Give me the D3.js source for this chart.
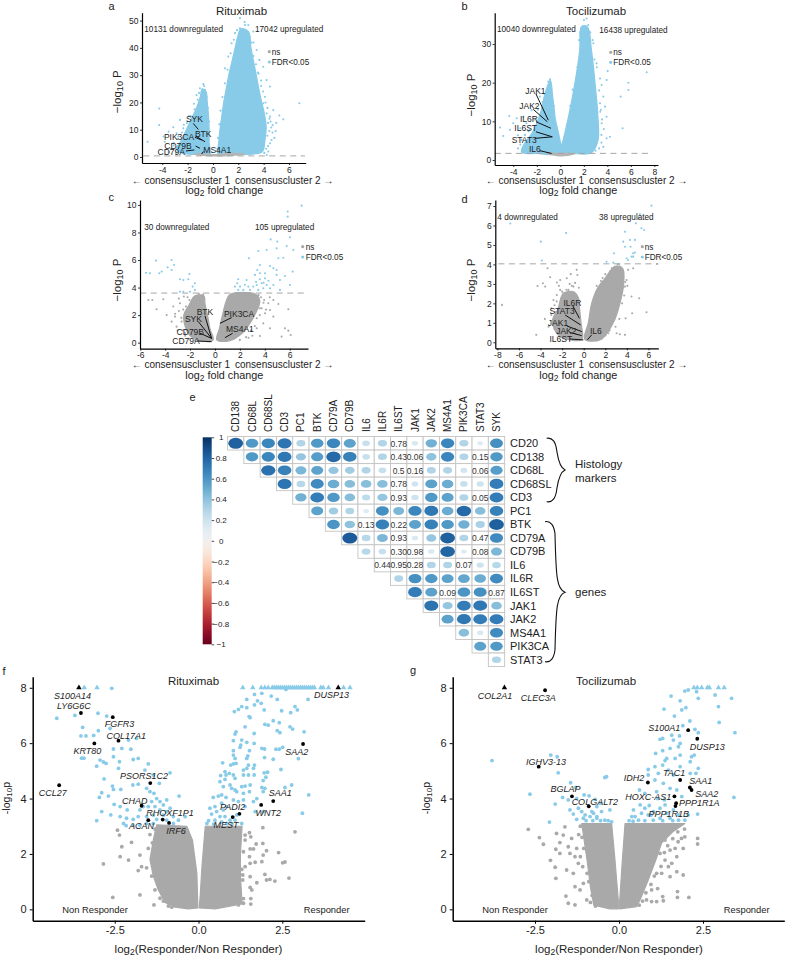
<!DOCTYPE html>
<html><head><meta charset="utf-8">
<script src="https://cdn.jsdelivr.net/npm/d3@7/dist/d3.min.js"></script>
<style>html,body{margin:0;padding:0;background:#fff}svg{display:block}text{font-family:"Liberation Sans",Arial,sans-serif;fill:#222}</style>
</head><body><svg id="c" width="786" height="957"></svg>
<script>
// ---------- volcano a ----------
const aCloudRight=[[.4,1],[.45,5],[.55,10],[.7,15],[.85,20],[1.05,25],[1.25,30],[1.5,35],[1.75,40],[1.95,44],[2.2,47],[2.8,46],[3,40],[3.25,34],[3.5,28],[3.75,22],[4.05,16],[4.2,11],[4.1,6],[3.9,2],[3,1],[1,.9]];
const aCloudLeft=[[-.2,1],[-.3,5],[-.3,10],[-.35,15],[-.45,20],[-.55,24],[-.85,25],[-1,22],[-1.3,18],[-1.7,14],[-2.1,10],[-2.5,6],[-2.9,3],[-2.5,1.5],[-1,.9]];
const aCloudNs=[[-1.5,1],[-.5,.5],[.5,.4],[1.5,.6],[2.5,1],[1.5,1.3],[.3,.9],[-.2,.9],[-.8,1.2]];
const aBlue=[[6.82,19.7],[-4.24,17.8],[-4.24,11.7],[-5.16,5.6],[5.24,15.2],[5.55,13.8],[4.71,11.7],[4.5,14.8],[4.24,16],[3.97,19.7],[4.63,6.2],[4.37,2],[4.24,.73],[-3.13,10.9],[-3.5,9.3],[-3.9,7.5],[-3.8,5.6],[-2.87,8.7],[-2.6,13.6],[-2.34,10.5],[-.76,26.7],[-1.03,25.2],[-1.29,22.7],[-.63,24.6],[2.53,48.4],[2.79,48.4],[2.13,50.9],[2.13,47.2],[1.74,45.4],[3.18,46],[3.45,39.2],[3.66,35.6],[3.97,33.1],[4.24,28.2],[4.5,25.8],[4.1,22.1],[4.76,17.2],[.95,32.5],[1.21,36.8],[1.47,41.7],[4.35,12.5],[4.45,9.5],[4.6,10.8],[4.3,7.8],[3.6,30.5],[3.8,26],[3.2,42],[2.5,49.5],[-1.5,19.5],[-1.9,15],[-2.3,11.8],[-2.8,6.5],[-3.1,4.2]];
const aBlueEdge=[[4.3,18],[4.15,20],[3.95,24],[3.8,28],[3.55,31],[3.4,34],[3.2,37],[3.05,42],[2.9,44],[4.45,14],[4.55,13],[4.7,9],[4.5,5],[4.35,4],[4.2,3],[4.05,1.5],[5,12.5],[4.95,9.5],[4.85,7],[.35,3],[.4,7],[.5,12],[.6,17],[.75,22],[.95,27],[1.15,32],[1.4,38],[1.65,43],[1.9,46.5],[-.35,8],[-.3,13],[-.4,18],[-.5,22],[-.7,26],[-1.1,23.5],[-1.2,21],[-1.45,17.5],[-1.75,15],[-2.05,12.5],[-2.45,9],[-2.75,7.5],[-3.1,5.2],[-3.3,3],[-3.5,1.8],[-2.9,1.6]];
const aLabels=[{t:"SYK",x:-2.13,y:14},{t:"BTK",x:-1.42,y:8.6},{t:"PIK3CA",x:-3.87,y:7.4},{t:"CD79B",x:-3.84,y:4.2},{t:"CD79A",x:-4.37,y:1.8},{t:"MS4A1",x:-.76,y:2.57}];
const aLinks=[[-1.55,12.3,-1.16,10.1],[-1.37,7.7,-.63,5.6],[-1.42,7.2,-.89,6.2],[-1.37,4,-1.03,3.2],[-2.13,2.2,-1.47,2.6],[-.89,1.1,-.76,2]];
// ---------- volcano b ----------
const bCloudRight=[[-.05,1.9],[.25,5.2],[.7,11.2],[1.25,20],[1.65,28.4],[1.8,34.5],[2.3,34.5],[2.65,28.4],[2.95,20],[3.2,11.2],[3.2,5],[2.65,1.9],[1,1.7]];
const bCloudLeft=[[-.1,1.9],[-.45,11.2],[-.65,16.5],[-.85,20.7],[-1.3,17.2],[-1.7,12],[-2.4,7],[-3,4.5],[-3.3,2],[-2,1.7]];
const bCloudNs=[[-1.2,1.75],[-.4,1.2],[.4,1.1],[1.3,1.7],[.2,1.7],[-.2,1.7]];
const bBlue=[[-5.13,8.4],[-4.85,6.2],[-4.34,11.4],[-4,9.5],[-3.7,10.8],[-3.4,8.2],[-4.28,7.8],[-3.15,11.2],[-2.87,9.5],[-2.44,12.9],[-1.73,16.4],[-.88,20.9],[-1.02,20.3],[-1.45,17.2],[7.35,22.7],[5.79,20],[5.79,18.1],[5.13,16.4],[4.03,23],[3.94,20.7],[5.3,8.2],[3.52,19.4],[3.66,16.4],[3.38,14.7],[3.8,13.8],[3.94,11.2],[3.52,9.5],[4.23,6],[3.94,5.6],[3.66,3.4],[2.24,36.6],[2.01,36.2],[1.82,34.1],[2.38,34.9],[2.81,30.2],[3.09,25],[3.38,21.1],[-3.6,6.4],[-3.3,5.2],[-2.7,7.4],[3.5,6.5],[3.7,8],[3.4,12.5]];
const bBlueEdge=[[3.1,24],[3.3,18],[3.45,13],[3.55,10.5],[3.5,4.5],[3.3,3],[3,2.4],[2.9,26],[2.75,31],[2.55,33],[1.05,18.2],[.85,14],[.55,9],[.35,6],[1.45,24],[1.6,31],[1.7,33],[-.55,14],[-.4,9],[-.25,5],[-1.05,19],[-1.5,15],[-1.9,13],[-2.2,10.5],[-2.6,8],[-3,6.5],[-3.4,4],[-3.6,3],[-2.9,3.5],[-.95,18.8]];
const bLabels=[{t:"JAK1",x:-2.98,y:17.9},{t:"JAK2",x:-3.49,y:14},{t:"IL6R",x:-3.43,y:10.6},{t:"IL6ST",x:-3.91,y:8.2},{t:"STAT3",x:-4.14,y:5.2},{t:"IL6",x:-2.67,y:2.8}];
const bLinks=[[-2.07,17.1,-1.02,10.3],[-2.3,13.1,-1.11,9.9],[-2.07,9.9,-.79,8.2],[-2.07,7.3,-.68,6],[-2.16,5.6,-.68,6],[-1.73,2.4,-.74,1.7]];
// ---------- volcano c ----------
const cCloudLeft=[[-.15,.2],[-.4,1],[-.6,2],[-.8,2.8],[-.9,3.4],[-1.6,3.4],[-2.1,2.7],[-2.5,2],[-2.4,1.2],[-2,.5],[-1,.1]];
const cCloudRight=[[.15,.2],[.35,1],[.6,2],[.9,3],[1.2,3.5],[3.3,3.5],[3.6,3],[3.3,2.2],[2.8,1.4],[2.2,.7],[1.2,.15]];
const cBlue=[[6.96,9.95],[5.84,9.52],[5.84,9.15],[6.02,7.65],[4.47,7.5],[5,7.34],[5.76,7.02],[6.29,6.73],[4.95,6.85],[3.48,6.66],[4.15,6.73],[2.73,6.13],[5.09,6.13],[5.49,6.17],[3.61,5.64],[4.42,5.57],[4.69,5.4],[3.4,5.28],[4.95,5.28],[3.61,5.04],[4.02,5.04],[4.95,4.92],[5.62,4.84],[6.24,5.16],[1.87,4.6],[2.54,4.55],[3.21,4.92],[4.02,4.67],[1.79,4.31],[2.01,4.07],[1.61,4.07],[2.68,4.07],[3.08,4.07],[3.35,4.19],[3.75,4.31],[4.15,4.19],[4.42,3.95],[4.69,4.19],[5.22,4.55],[6.02,4.19],[2.28,3.83],[2.81,3.83],[3.48,3.83],[3.88,3.95],[5.22,3.83],[1.87,3.83],[-4.74,5.96],[-3.48,6],[-3.29,5.64],[-3.8,5.47],[-4.28,5.16],[-4.47,5.04],[-5.54,5.08],[-5.22,5.04],[-2.06,4.99],[-3.48,5.28],[-2.81,4.6],[-2.14,4.6],[-2.54,4.55],[-1.61,4.31],[-1.79,4.07],[-2.81,3.7],[-2.54,3.7],[-2.01,3.7],[-1.61,3.83],[3.6,4.6],[3.9,4.35],[3.3,4.4],[2.4,4.2],[4.3,4.5]];
const cGray=[[-5.35,3.1],[-5.03,3.1],[-4.15,3.15],[-4.69,2.42],[-3.88,2],[-3.21,1.89],[-2.81,2.86],[-3.35,2.62],[-3.48,1.53],[-2.68,1.53],[-2.33,2.62],[-3.08,1.16],[4.28,2.86],[4.69,3.1],[5.09,2.81],[5.89,2.42],[4.42,1.04],[4.42,2.37],[5.62,1.04],[5.89,.87],[6.08,.56],[5.35,.44],[3.61,.48],[3.35,1.04],[3.88,1.4],[3.35,1.77],[4.02,2.13],[4.69,1.89],[3.61,2.49],[-2.9,3.2],[-2.5,3.35],[-3,.9],[-2.4,.7],[4.4,3.3]];
const cGrayEdge=[[-.95,3.5],[-1.3,3.55],[-1.75,3.2],[-2.05,3.1],[-2.2,3.3],[-2.55,2.4],[-2.7,1.8],[-2.9,2.3],[-2.6,.9],[-2.1,.3],[-1.6,.15],[-2.4,.5],[-3.2,2.1],[3.5,3.45],[3.7,3.3],[3.9,2.9],[3.75,2.5],[3.6,2],[3.2,1.2],[2.9,.9],[3,.5],[2.5,.4],[2,.2],[3.95,3.1],[3.4,2.7],[4.1,2.4],[2.7,.35]];
const cLabels=[{t:"BTK",x:-1.47,y:2.2},{t:"SYK",x:-2.41,y:1.69},{t:"CD79B",x:-3.08,y:.8},{t:"CD79A",x:-3.43,y:.15},{t:"PIK3CA",x:.72,y:2.08},{t:"MS4A1",x:.88,y:.97}];
const cLinks=[[-.8,1.94,-.27,.31],[-1.34,1.53,-.27,.31],[-1.2,.68,-.27,.31],[-1.42,.12,-.27,.07],[1.34,1.82,.4,1.4],[1.42,.68,.8,.36]];
// ---------- volcano d ----------
const dCloudLeft=[[-.15,.15],[-.25,1],[-.4,1.8],[-.5,2.3],[-1,2.6],[-1.9,2.5],[-2.4,1.7],[-2.9,1.1],[-2.4,.4],[-1,.1]];
const dCloudRight=[[.1,.15],[.43,1],[.74,2],[1.3,2.8],[2,3.3],[2.9,3.9],[3.6,3.8],[3.7,3],[3.35,2],[2.74,1],[1.6,.15]];
const dBlue=[[6.28,7.02],[5.2,6.59],[3.82,5.68],[4.83,6.11],[5.35,5.86],[5.6,5.77],[-6.8,6.1],[-1.63,5.62],[-3.97,5.17],[4.28,5.26],[4.74,5.26],[3.66,5.17],[3.82,4.91],[4.34,4.91],[4.58,4.57],[4.43,4.4],[4.74,4.61],[4.12,4.23],[2.8,4.57],[3.97,4.32],[-3.88,4.2],[2.12,4.14],[2.74,4.09],[4.58,4.4],[3.29,4.02],[5.1,6.4]];
const dGray=[[-7.57,1.92],[-4.4,.38],[-4.28,2.89],[-3.78,3.03],[-3.35,3.8],[-3.57,2.86],[-3.11,3.34],[-2.49,3.07],[-2.18,3.2],[-1.57,3.29],[-.65,3.72],[-.58,3.46],[-1.88,2.52],[-1.42,2.69],[-2.18,2.69],[-.95,2.86],[-2.49,2.43],[-2.8,2.17],[5.14,2.26],[5.82,1.54],[4.49,1.49],[3.88,1.23],[3.35,.41],[3.82,.38],[3.05,.46],[2.28,.46],[6.8,4.02],[4.12,3.72],[4.58,3.8],[3.66,3.63],[3.35,3.37],[2.89,3.2],[2.28,2.86],[3.05,3.54],[3.35,3.89],[2.43,3.63],[3.97,3.2],[3.51,2.52],[3.82,2.86],[3.05,2.69],[4.43,2.35],[-1.2,3.5],[-2.7,1.9],[-3.6,1.2]];
const dGrayEdge=[[-1.1,2.9],[-1.6,2.7],[-2,2.6],[-2.5,2.1],[-2.65,1.55],[-3,1.4],[-3.25,.8],[-2.7,.7],[-2.2,.3],[-1.6,.15],[-3,1.75],[-.8,3.05],[-1.3,3],[-2.3,2.9],[-.45,2.8],[3.85,3.1],[3.75,2.4],[3.55,2],[3.1,1.6],[3.3,1.2],[2.95,.8],[2.4,.6],[2,.35],[1.7,.2],[4.05,2.9],[3.65,3.4],[2,3.5],[1.6,3.15],[1.2,2.9],[3.15,4],[2.6,3.8],[1.75,3.3]];
const dLabels=[{t:"IL6R",x:-1.88,y:2.04},{t:"STAT3",x:-3.17,y:1.58},{t:"JAK1",x:-3.32,y:1.01},{t:"JAK2",x:-2.55,y:.57},{t:"IL6ST",x:-3.17,y:.17},{t:"IL6",x:.58,y:.58}];
const dLinks=[[-1.02,1.88,-.4,1.23],[-1.72,1.4,-.28,.89],[-1.57,.84,-.18,.55],[-1.26,.5,-.18,.34],[-1.32,.17,-.03,.12],[.74,.38,.34,.12]];
// ---------- volcano f ----------
const fCloudLeft=[[-.02,.05],[-.05,1.3],[-.18,2.5],[-.35,3],[-1.25,3.05],[-1.35,2.5],[-1.45,1.8],[-1.35,1.2],[-1.2,.7],[-1,.25],[-.7,.08],[-.3,.02]];
const fCloudRight=[[.02,.05],[.05,.5],[.1,1.5],[.2,3],[1.3,3],[1.25,2],[1.25,1.2],[1.3,.2],[.5,.02]];
const fBlue=[[-4.23,6.9],[-3.69,7],[-3.46,6.57],[-3.51,6.26],[-3.36,6.26],[-3.13,6.28],[-2.99,6.45],[-3,7.08],[-2.74,6.98],[-2.64,6.53],[-2.59,7.98],[-3.49,5.46],[-3.42,5.46],[-3.04,5.17],[-2.94,5.39],[-2.84,5.32],[-2.76,5.27],[-2.54,5.51],[-2.36,5.33],[-2.39,5.09],[-2.29,5.81],[-2.02,5.78],[-2.54,5.79],[-1.95,5.41],[-1.8,5.45],[-1.85,6.17],[-2.09,6.11],[-2.82,4.71],[-2.57,4.45],[-2.54,4.33],[-2.32,4.33],[-2.96,4.04],[-2.89,4.21],[-2.69,4.09],[-2.52,3.79],[-2.34,3.71],[-2.89,3.53],[-2.62,3.41],[-3.04,3.2],[-2.34,3.35],[-2.13,3.59],[-2.15,3.29],[-1.96,4.49],[-1.8,4.52],[-1.6,5.03],[-1.5,5.25],[-1.35,4.85],[-1.17,4.55],[-.85,4.93],[-1.55,4.37],[-1.45,4.25],[-1.33,4.19],[-1.25,4],[-1.15,3.89],[-1.05,3.77],[-.58,4.09],[-.95,3.95],[-.85,3.65],[-1.65,3.71],[-1.75,3.59],[-1.8,3.35],[-1.95,3.25],[-2.24,3.1],[-2.16,3.02],[-1.55,3.35],[-1.35,3.4],[-1.25,3.25],[-1.05,3.4],[-.75,3.35],[-.6,3.22],[-.4,3.35],[-1.5,3.71],[-1.4,3.89],[-1.3,3.71],[-1.15,3.59],[-.95,3.53],[-.95,3.22],[-1.55,3.1],[-1.35,3.1],[-1.75,3.04],[-1.95,3.04],[-.75,3.1],
[1.89,7.8],[1.67,7.76],[2.61,7.94],[2.17,7.7],[2.35,7.58],[3.27,7.58],[1.44,7.58],[1.76,7.53],[1.87,7.44],[1.67,7.38],[1.29,7.32],[1.19,7.22],[1.07,7.14],[1.44,7.28],[1.96,7.2],[2.48,7.17],[2.88,7.32],[2.95,7.2],[2.75,7.1],[1.51,6.96],[1.54,6.92],[1.39,6.59],[1.98,6.68],[2.08,6.65],[2.23,6.81],[2.41,6.74],[2.73,6.59],[2.81,6.51],[3.15,6.41],[2.35,6.45],[2.43,6.38],[1.12,6.41],[1.09,6.33],[1.66,6.35],[1.29,6.11],[1.44,6.03],[1.04,6.09],[1.26,5.93],[1.24,5.85],[1.66,5.99],[1.52,5.73],[1.89,5.81],[1.97,5.79],[2.31,5.78],[2.41,5.78],[2.51,5.85],[1.04,5.73],[1.04,5.57],[1.47,5.54],[1.44,5.45],[1.97,5.48],[2.23,5.42],[2.98,5.44],[1.09,5.45],[1.12,5.27],[.96,5.21],[1.04,5.25],[.72,5.29],[1.67,5.21],[1.64,5.09],[1.49,5.21],[1.44,5.09],[1.34,5.03],[2.46,5.05],[1.96,4.93],[2.06,4.95],[2.01,4.77],[.79,4.97],[.82,4.85],[.66,4.83],[.92,4.91],[1.04,4.85],[1.09,4.73],[.79,4.69],[.64,4.61],[1.34,4.85],[1.49,4.85],[1.66,4.85],[1.93,4.65],[.74,4.43],[.94,4.49],[.99,4.37],[1.09,4.31],[1.29,4.43],[1.39,4.45],[1.54,4.49],[1.89,4.4],[1.98,4.37],[2.58,4.4],[2.78,4.49],[3.29,4.13],[1.93,4.25],[1.14,4.25],[1.34,4.19],[1.52,4.25],[1.74,4],[.44,4.04],[.59,4.09],[.69,4.13],[.82,4.04],[1.04,3.95],[1.19,3.89],[1.34,3.95],[1.39,3.71],[1.64,3.89],[.34,3.65],[.49,3.71],[.69,3.83],[.84,3.71],[1.69,3.53],[1.93,3.53],[3.1,3.47],[.39,3.44],[.54,3.53],[.74,3.59],[.64,3.35],[.49,3.22],[.79,3.35],[.94,3.22],[.69,3.16],[.84,3.1],[1.09,3.22],[1.29,3.1],[1.14,3.41],[.3,3.2],[.45,3.08],[.25,3.1],[1,3.08]];
const fBlueTri=[[-3.41,8],[-3.03,8],[1.32,8],[1.62,8],[1.87,8],[1.98,8],[2.08,8],[2.2,8],[2.26,8],[2.32,8],[2.38,8],[2.44,8],[2.5,8],[2.56,8],[2.62,8],[2.68,8],[2.74,8],[2.8,8],[2.86,8],[2.92,8],[2.98,8],[3.04,8],[3.1,8],[3.16,8],[3.22,8],[3.28,8],[3.34,8],[3.4,8],[3.46,8],[3.65,8],[3.72,8],[3.88,8],[4.33,8],[4.52,8]];
const fGray=[[-2.42,2.86],[-2.36,2.68],[-2,2.42],[-2.29,2.26],[-2.84,1.64],[-2.34,1.9],[-2.56,.43],[-1.75,.52],[-1.33,.16],[-.9,.12],[-1.8,1.4],[-1.7,1.54],[-2.09,1.78],[-1.75,1.96],[1.92,2.95],[2.88,2.8],[1.52,2.77],[1.56,2.62],[1.39,2.68],[1.39,2.5],[1.72,2.36],[1.92,2.38],[1.54,2.18],[1.64,2.18],[1.34,2.08],[2.03,2.12],[1.93,1.96],[2.39,2.05],[1.52,1.9],[1.54,1.66],[1.69,1.7],[1.89,1.72],[2.51,1.68],[2.58,1.71],[1.39,1.54],[1.29,1.44],[1.22,1.3],[1.32,1.24],[1.54,1.18],[1.32,1.06],[1.98,1.26],[2.03,1.06],[2.13,1.08],[2.28,1.02],[2.7,1.13],[1.74,.96],[1.54,.79],[1.59,.7],[1.09,.82],[.94,.7],[1.09,.58],[1.34,.39],[1.56,.39],[1.34,.22],[1.56,.19],[1.19,.16],[-1.3,2.9],[-1.38,2.4],[-1.5,2.2],[-1.55,1.5],[-1.4,1.2],[-1.3,.7],[-1.15,.4],[-1.05,.3],[-.8,.08],[-1.45,2.7]];
const fHits=[{t:"S100A14",x:-3.57,y:8,tri:1,lx:-3.76,ly:7.71},{t:"LY6G6C",x:-3.51,y:7.09,lx:-3.72,ly:7.35},{t:"FGFR3",x:-2.56,y:6.94,lx:-2.36,ly:6.68},{t:"COL17A1",x:-2.39,y:6.09,lx:-2.16,ly:6.26},{t:"KRT80",x:-3.11,y:5.99,lx:-3.32,ly:5.73},{t:"CCL27",x:-4.16,y:4.48,lx:-4.35,ly:4.19},{t:"PSORS1C2",x:-1.44,y:4.56,lx:-1.63,ly:4.83},{t:"CHAD",x:-1.7,y:3.74,lx:-1.9,ly:3.91},{t:"RHOXF1P1",x:-1.07,y:3.24,lx:-.85,ly:3.5},{t:"ACAN",x:-1.5,y:3.22,lx:-1.7,ly:3.03},{t:"IRF6",x:-.88,y:3.12,lx:-.67,ly:2.84},{t:"DUSP13",x:4.17,y:8,tri:1,lx:3.97,ly:7.73},{t:"SAA2",x:3.12,y:5.97,lx:2.93,ly:5.68},{t:"SAA1",x:2.23,y:3.91,lx:2.44,ly:4.19},{t:"WNT2",x:1.87,y:3.77,lx:2.08,ly:3.49},{t:"PADI2",x:1.22,y:3.45,lx:1.02,ly:3.71},{t:"MEST",x:1.02,y:3.33,lx:.82,ly:3.06}];
// ---------- volcano g ----------
const gCloudLeft=[[-.02,.02],[-.02,.3],[-.12,1.78],[-.22,3.1],[-1.11,3.1],[-.95,1.78],[-.85,.8],[-.75,.15],[-.3,.02]];
const gCloudRight=[[.02,.02],[.02,.3],[.1,1.78],[.18,3.1],[1.96,3.1],[1.6,2.8],[1.27,2.4],[1.1,1.8],[.87,1.06],[.67,.46],[.53,.1]];
const gBlue=[[-3.78,5.37],[-2.03,5.57],[-1.84,5.51],[-1.81,4.93],[-2.65,4.16],[-1.9,3.8],[-2.07,3.15],[-1.44,4.57],[-1.29,4.4],[-1.68,4.04],[-1.51,3.95],[-1.26,4],[-1.04,4.13],[-.89,4.1],[-.71,3.97],[-1.46,3.59],[-1.36,3.44],[-1.21,3.65],[-1.11,3.53],[-1.01,3.41],[-.81,3.53],[-.66,3.71],[-.56,3.83],[-1.26,3.25],[-1.06,3.29],[-.86,3.35],[-.66,3.35],[-.42,4.76],[-.37,4.79],[-.76,3.47],[-.52,3.53],[-.27,3.59],[-.66,3.29],[-.42,3.22],[-.22,3.16],
[1.96,7.88],[2.06,7.92],[2.31,7.86],[1.55,7.7],[1.82,7.53],[2.36,7.62],[2.86,7.74],[3.35,7.62],[1.34,7.23],[1.87,7.2],[1.99,7.28],[2.96,7.32],[1.65,6.98],[2.11,6.8],[1.9,6.63],[2.98,6.75],[3.45,6.38],[2.26,6.5],[2.36,6.38],[1.22,6.14],[1.3,6.17],[1.57,6.29],[1.62,6.11],[1.8,6.26],[1.82,5.99],[1.77,5.87],[1.52,5.81],[1.3,5.73],[1.09,5.63],[2.24,5.57],[2.16,5.51],[1.82,5.57],[1.67,5.45],[1.42,5.45],[1.37,5.37],[1.3,5.21],[1.07,5.15],[.87,5.05],[.87,4.85],[1.17,4.91],[1.47,5.03],[1.82,5.15],[2.12,5.33],[2.36,5.09],[2.29,4.91],[2.12,4.91],[1.62,4.85],[1.07,4.67],[1.32,4.55],[.61,4.31],[.77,4.19],[1.12,4.25],[1.52,4.37],[1.72,4.31],[3.42,4.04],[2.34,3.44],[1.87,4.07],[.43,3.59],[.48,3.35],[.38,3.35],[.63,3.77],[.77,3.65],[.67,3.47],[.87,3.41],[1.02,3.53],[1.22,3.65],[1.37,3.77],[1.42,3.47],[1.62,3.59],[1.77,3.41],[2.06,3.41],[1.96,3.22],[1.22,3.29],[1.02,3.22],[.77,3.2],[.58,3.22],[1.77,3.22],[1.52,3.29],[.9,3.75],[1.15,4],[1.35,3.95],[.3,3.2],[.42,3.18],[1.3,3.2],[1.6,3.2],[.95,3.4],[-.98,3.2],[-.78,3.2],[-.55,3.2],[-.32,3.2]];
const gBlueTri=[[2.23,8],[2.33,8],[2.46,8],[2.63,8],[2.69,8],[2.96,8],[3.13,8]];
const gGray=[[-2.7,2.89],[-2.37,2.59],[-2.25,2.35],[-2.04,1.77],[-1.9,1.52],[-1.88,1.12],[-1.58,.48],[-1.51,.22],[-1.31,.16],[-1.86,2.74],[-1.66,2.68],[-1.61,2.98],[-1.76,2.41],[-1.88,2.17],[-1.76,2.02],[-1.41,2.56],[-1.51,2.26],[-1.46,2.02],[-1.31,1.9],[-1.56,1.42],[-1.36,1.3],[-1.31,.82],[-1.16,.7],[-1.06,.94],[-.96,.34],[-1.21,1.66],[-1.26,2.2],[-1.08,1.54],
[2.34,2.56],[2.34,2.36],[1.96,2.62],[1.86,2.56],[1.76,2.44],[1.67,2.2],[1.52,2.14],[1.91,2.2],[1.72,1.9],[1.37,1.78],[1.52,1.18],[1.91,1.24],[1.72,1.36],[1.47,1.54],[.97,.7],[1.74,.64],[1.74,.43],[2.08,.43],[1.3,.46],[.97,.28],[1.12,.28],[1.32,.31],[.82,.34],[1.27,1.3],[1.12,1.3],[1.57,1.66],[1.37,2.5],[1.22,2.02],[-1.15,3],[-1.1,2.6],[-1.05,2.2],[-1.15,1.9],[-.95,1.3],[-.9,1],[-.8,.5],[-.85,.25],[-.7,.12],[-1.2,2.7],[1.95,2.9],[1.75,2.8],[1.6,2.55],[1.45,2.3],[1.35,2.05],[1.25,1.55],[1.05,1.2],[.95,.9],[.8,.6],[.7,.3],[.6,.15],[1.15,.75]];
const gHits=[{t:"COL2A1",x:-3.41,y:8,tri:1,lx:-3.69,ly:7.71},{t:"CLEC3A",x:-2.2,y:7.91,lx:-2.4,ly:7.62},{t:"IGHV3-13",x:-2.39,y:5.15,lx:-2.17,ly:5.32},{t:"BGLAP",x:-1.4,y:4.08,lx:-1.59,ly:4.34},{t:"COLGALT2",x:-.9,y:3.72,lx:-.72,ly:3.89},{t:"S100A1",x:2.06,y:6.47,lx:1.35,ly:6.56},{t:"DUSP13",x:2.33,y:6.16,lx:2.63,ly:5.88},{t:"IDH2",x:.86,y:4.58,lx:.45,ly:4.75},{t:"TAC1",x:1.82,y:4.67,lx:1.64,ly:4.93},{t:"SAA1",x:2.11,y:4.4,lx:2.43,ly:4.63},{t:"SAA2",x:2.16,y:4.31,lx:2.61,ly:4.16},{t:"HOXC-AS1",x:1.65,y:4.08,lx:.87,ly:4.07},{t:"PPP1R1A",x:1.7,y:3.83,lx:2.39,ly:3.85},{t:"PPP1R1B",x:1.68,y:3.73,lx:1.48,ly:3.45}];
// ---------- correlation matrix ----------
const corrCols=["CD138","CD68L","CD68SL","CD3","PC1","BTK","CD79A","CD79B","IL6","IL6R","IL6ST","JAK1","JAK2","MS4A1","PIK3CA","STAT3","SYK"];
const corrRows=["CD20","CD138","CD68L","CD68SL","CD3","PC1","BTK","CD79A","CD79B","IL6","IL6R","IL6ST","JAK1","JAK2","MS4A1","PIK3CA","STAT3"];
const corrValues=[
[.82,.58,.66,.73,.3,.58,.66,.54,.22,.3,"0.78",.15,.48,.66,.3,.12,.62],
[.58,.66,.72,.38,.56,.78,.68,.22,.3,"0.43","0.06",.4,.66,.3,"0.15",.58],
[.75,.68,.45,.54,.38,.35,.3,.22,"0.5","0.16",.3,.3,.18,"0.06",.56],
[.73,.28,.64,.5,.42,.42,.42,"0.78",.18,.54,.5,.22,.2,.7],
[.48,.7,.58,.42,.25,.38,"0.93",.2,.58,.54,.3,"0.05",.7],
[.54,.35,.3,.12,.62,.45,.66,.72,.5,.78,.42,.68],
[.6,.4,"0.13",.68,"0.22",.54,.68,.58,.48,.32,.82],
[.84,.28,.45,"0.93",.15,.38,.82,.3,"0.47",.64],
[.28,.22,"0.30","0.98",.15,.8,.12,"0.08",.45],
["0.44","0.95","0.28",.3,.3,"0.07",.2,.28],
[.3,.62,.58,.54,.52,.5,.64],
[.7,.54,"0.09",.6,.62,"0.87"],
[.74,.38,.7,.72,.42],
[.54,.72,.7,.7],
[.42,.15,.64],
[.54,.58],
[.3]];
const colorbarTicks=[1,.8,.6,.4,.2,0,-.2,-.4,-.6,-.8,-1];

const BLUE="#87cbe9",GRAY="#a9a9a9",INK="#222";
const svg=d3.select("#c");

function volcano(c){
  const g=svg.append("g");
  const x=d3.scaleLinear().domain(c.xDom).range(c.xR),y=d3.scaleLinear().domain(c.yDom).range(c.yR);
  const line=d3.line().x(d=>x(d[0])).y(d=>y(d[1])).curve(c.big?d3.curveLinearClosed:d3.curveCatmullRomClosed.alpha(.5));
  (c.clouds||[]).forEach(k=>g.append("path").attr("d",line(k[0])).attr("fill",k[1]).attr("stroke",k[1]).attr("stroke-width",1.2).attr("stroke-linejoin","round"));
  const r=c.big?1.9:1.05;
  const pts=(a,col)=>g.append("g").selectAll("circle").data(a||[]).join("circle").attr("cx",d=>x(d[0])).attr("cy",d=>y(d[1])).attr("r",r).attr("fill",col);
  pts(c.gray,GRAY);pts(c.blue,BLUE);
  const tri=d3.symbol().type(d3.symbolTriangle);
  g.append("g").selectAll("path").data(c.blueTri||[]).join("path").attr("d",tri.size(13)()).attr("transform",d=>`translate(${x(d[0])},${y(d[1])})`).attr("fill",BLUE);
  if(c.thr!==undefined) g.append("line").attr("x1",x(c.thrX[0])).attr("x2",x(c.thrX[1])).attr("y1",y(c.thr)).attr("y2",y(c.thr)).attr("stroke","#a6a6a6").attr("stroke-width",1).attr("stroke-dasharray","6,4.5");
  (c.links||[]).forEach(l=>g.append("line").attr("x1",x(l[0])).attr("y1",y(l[1])).attr("x2",x(l[2])).attr("y2",y(l[3])).attr("stroke","#111").attr("stroke-width",1));
  (c.labels||[]).forEach(l=>g.append("text").attr("x",x(l.x)).attr("y",y(l.y)).attr("dy","0.35em").style("font-size","8.5px").text(l.t));
  (c.hits||[]).forEach(h=>{
    if(h.tri) g.append("path").attr("d",tri.size(13)()).attr("transform",`translate(${x(h.x)},${y(h.y)})`).attr("fill","#000");
    else g.append("circle").attr("cx",x(h.x)).attr("cy",y(h.y)).attr("r",1.9).attr("fill","#000");
    g.append("text").attr("x",x(h.lx)).attr("y",y(h.ly)).attr("dy","0.35em").attr("text-anchor","middle").style("font-size","9px").style("font-style","italic").text(h.t);
  });
  const fs=c.big?11:8.5, tl=c.big?3:2;
  const ax=g.append("g").attr("transform",`translate(0,${c.yR[0]})`).call(d3.axisBottom(x).tickValues(c.xTicks).tickSize(tl).tickSizeOuter(0).tickPadding(c.big?3:1.5).tickFormat(d=>c.big?d.toFixed(1):String(d)));
  const ay=g.append("g").attr("transform",`translate(${c.xR[0]},0)`).call(d3.axisLeft(y).tickValues(c.yTicks).tickSize(tl).tickSizeOuter(0).tickPadding(c.big?3:1.5).tickFormat(d=>String(d)));
  [ax,ay].forEach(a=>{a.selectAll("text").style("font-size",fs+"px").style("font-family",'"Liberation Sans"').attr("fill",INK);
    a.select(".domain").attr("stroke","#000").attr("stroke-width",c.big?1.5:1.2);a.selectAll(".tick line").attr("stroke","#000").attr("stroke-width",c.big?1:.8);});
}
const panels=[
 {xDom:[-5.6,7.32],xR:[142,305.7],yDom:[-2.2,52.9],yR:[163,12.7],xTicks:[-4,-2,0,2,4,6],yTicks:[0,10,20,30,40,50],thr:.4,thrX:[-5.5,7.26],clouds:[[aCloudRight,BLUE],[aCloudLeft,BLUE],[aCloudNs,"#b4b4b4"]],blue:aBlue.concat(aBlueEdge),links:aLinks,labels:aLabels},
 {xDom:[-5.58,8.31],xR:[494.7,658],yDom:[-1.29,38.1],yR:[165,12.7],xTicks:[-4,-2,0,2,4,6,8],yTicks:[0,10,20,30],thr:1.72,thrX:[-5.56,7.5],clouds:[[bCloudRight,BLUE],[bCloudLeft,BLUE],[bCloudNs,"#b4b4b4"]],blue:bBlue.concat(bBlueEdge),links:bLinks,labels:bLabels},
 {xDom:[-6.02,7.47],xR:[140,308],yDom:[-.44,10.36],yR:[348.7,200],xTicks:[-6,-4,-2,0,2,4,6],yTicks:[0,2,4,6,8,10],thr:3.6,thrX:[-6,7.5],clouds:[[cCloudLeft,GRAY],[cCloudRight,GRAY]],blue:cBlue,gray:cGray.concat(cGrayEdge),links:cLinks,labels:cLabels},
 {xDom:[-8.19,6.91],xR:[495.3,658.3],yDom:[-.31,7.31],yR:[348.3,200],xTicks:[-8,-6,-4,-2,0,2,4,6],yTicks:[0,1,2,3,4,5,6,7],thr:4.03,thrX:[-7.9,6.9],clouds:[[dCloudLeft,GRAY],[dCloudRight,GRAY]],blue:dBlue,gray:dGray.concat(dGrayEdge),links:dLinks,labels:dLabels},
 {big:1,xDom:[-4.95,4.96],xR:[32.7,364.7],yDom:[-.41,8.4],yR:[920.7,676.7],xTicks:[-2.5,0,2.5],yTicks:[0,2,4,6,8],clouds:[[fCloudLeft,GRAY],[fCloudRight,GRAY]],blue:fBlue,blueTri:fBlueTri,gray:fGray,hits:fHits},
 {big:1,xDom:[-4.95,4.92],xR:[452.7,784.3],yDom:[-.41,8.4],yR:[920.7,676.7],xTicks:[-2.5,0,2.5],yTicks:[0,2,4,6,8],clouds:[[gCloudLeft,GRAY],[gCloudRight,GRAY]],blue:gBlue,blueTri:gBlueTri,gray:gGray,hits:gHits}
];
panels.forEach(volcano);

function T(x,y,s,size,opt={}){const t=svg.append("text").attr("x",x).attr("y",y).style("font-size",size+"px");
  if(opt.anchor)t.attr("text-anchor",opt.anchor);t.attr("dy",opt.dy||"0.35em");if(opt.rot)t.attr("transform",`rotate(-90,${x},${y})`);
  if(s!==null)t.text(s);return t;}
[["a",108.5,6],["b",461.5,6.5],["c",108.5,197],["d",461.5,199],["e",189.5,397],["f",2.5,671],["g",410,670]].forEach(d=>T(d[1],d[2],d[0],11));
T(216,10.7,"Rituximab",11.5);T(566,10.7,"Tocilizumab",11.5);T(168,681,"Rituximab",11.5);T(576,681,"Tocilizumab",11.5);
[[144.3,29,"10131 downregulated"],[255,29,"17042 upregulated"],[497,29.3,"10040 downregulated"],[599.3,30,"16438 upregulated"],[144.3,226.7,"30 downregulated"],[255,226.7,"105 upregulated"],[497.3,216.7,"4 downregulated"],[599,217.3,"38 upregulated"]].forEach(d=>T(d[0],d[1],d[2],8.2));
[[269.3,51.7,62,271.7],[610.7,52.3,62.3,613.3],[302.7,246.7,257,305.7],[642.3,246.7,257,644.7]].forEach(d=>{
  svg.append("circle").attr("cx",d[0]).attr("cy",d[1]).attr("r",1.6).attr("fill",GRAY);
  svg.append("circle").attr("cx",d[0]).attr("cy",d[2]).attr("r",1.6).attr("fill",BLUE);
  T(d[3],d[1],"ns",8.2);T(d[3],d[2],"FDR<0.05",8.2);});
[[131.7,235,224.3,180,190.7],[485.7,589,578.3,180,190.7],[131.7,235,224.3,364.3,375.7],[485.7,589,578.3,364.3,375.7]].forEach(d=>{
  T(d[0],d[3],"\u2190 consensuscluster 1",10);T(d[1],d[3],"consensuscluster 2 \u2192",10);
  const t=T(d[2],d[4],null,10.8,{anchor:"middle"});
  t.append("tspan").text("log");t.append("tspan").attr("dy",2).style("font-size","8.5px").text("2");t.append("tspan").attr("dy",-2).text(" fold change");
});
[[117.3,91.7],[471,95],[117,280],[471,280]].forEach(d=>{
  const t=T(d[0],d[1],null,11.5,{anchor:"middle",rot:1});
  t.append("tspan").text("\u2212log");t.append("tspan").attr("dy",2).style("font-size","9px").text("10");t.append("tspan").attr("dy",-2).text(" P");
});
[[198.5,6],[619,426]].forEach(d=>{
  const t=T(d[0],949.3,null,11.5,{anchor:"middle"});
  t.append("tspan").text("log");t.append("tspan").attr("dy",2).style("font-size","8.5px").text("2");t.append("tspan").attr("dy",-2).text("(Responder/Non Responder)");
  const y=T(d[1],798,null,10.5,{anchor:"middle",rot:1});
  y.append("tspan").text("-log");y.append("tspan").attr("dy",2).style("font-size","8px").text("10");y.append("tspan").attr("dy",-2).text("p");
});
[[95,"Non Responder"],[326.7,"Responder"],[515,"Non Responder"],[746.7,"Responder"]].forEach(d=>T(d[0],910,d[1],9.4,{anchor:"middle"}));

const cx=d3.scalePoint().domain(corrCols).range([235.7,496.5]),cy=d3.scalePoint().domain(corrRows).range([443.3,659.8]);
const cw=16.3,ch=13.53,col=v=>d3.interpolateRdBu((v+1)/2);
const cells=corrValues.flatMap((row,i)=>row.map((v,j)=>({r:corrRows[i],c:corrCols[i+j],v})));
const cg=svg.append("g");
cg.selectAll("rect").data(cells).join("rect").attr("x",d=>cx(d.c)-cw/2).attr("y",d=>cy(d.r)-ch/2).attr("width",cw).attr("height",ch).attr("fill","#fff").attr("stroke","#c4c4c4").attr("stroke-width",.9);
cg.selectAll("ellipse").data(cells.filter(d=>typeof d.v==="number")).join("ellipse").attr("cx",d=>cx(d.c)).attr("cy",d=>cy(d.r)).attr("rx",d=>8.2*Math.sqrt(d.v)).attr("ry",d=>6*Math.sqrt(d.v)).attr("fill",d=>col(d.v));
cg.selectAll("text").data(cells.filter(d=>typeof d.v==="string")).join("text").attr("x",d=>cx(d.c)).attr("y",d=>cy(d.r)).attr("dy","0.4em").attr("text-anchor","middle").style("font-size","8.5px").style("fill","#333").text(d=>d.v);
corrCols.forEach(n=>T(cx(n),432,n,10,{rot:1}));
corrRows.forEach(n=>T(510,cy(n),n,11));
const defs=svg.append("defs"),lg=defs.append("linearGradient").attr("id","cb").attr("x1",0).attr("x2",0).attr("y1",0).attr("y2",1);
d3.range(0,1.0001,.05).forEach(t=>lg.append("stop").attr("offset",t).attr("stop-color",d3.interpolateRdBu(1-t)));
const cbY=d3.scaleLinear().domain([-1,1]).range([644.3,437.3]);
svg.append("rect").attr("x",202.7).attr("y",437.3).attr("width",9).attr("height",207).attr("fill","url(#cb)");
const cbA=svg.append("g").attr("transform","translate(211.7,0)").call(d3.axisRight(cbY).tickValues(colorbarTicks).tickSize(2.5).tickSizeOuter(0).tickPadding(5).tickFormat(d=>d<0?"\u2212"+Math.abs(d):String(d)));
cbA.select(".domain").remove();cbA.selectAll("text").style("font-size","8px").attr("fill",INK).attr("text-anchor","middle").attr("x",9.5);cbA.selectAll(".tick line").attr("stroke","#000").attr("stroke-width",.7);
function brace(x0,y0,y1,tip,yt){const c=d3.path();const bx=x0+8;
 c.moveTo(x0,y0);c.bezierCurveTo(bx-2,y0-1,bx+1,y0+4,bx+2,y0+12);c.bezierCurveTo(bx+3,yt-14,bx+4,yt-3,tip,yt);
 c.bezierCurveTo(bx+4,yt+3,bx+3,yt+14,bx+2,y1-12);c.bezierCurveTo(bx+1,y1-4,bx-2,y1+1,x0,y1);return c.toString();}
[[546.7,438.3,501.7,565,470],[545,521.7,661.7,565,592.3]].forEach(b=>svg.append("path").attr("d",brace(b[0],b[1],b[2],b[3],b[4])).attr("fill","none").attr("stroke","#111").attr("stroke-width",1.1));
T(575,464,"Histology",11.5);T(575,477.7,"markers",11.5);T(575,592,"genes",11.5);
</script></body></html>
